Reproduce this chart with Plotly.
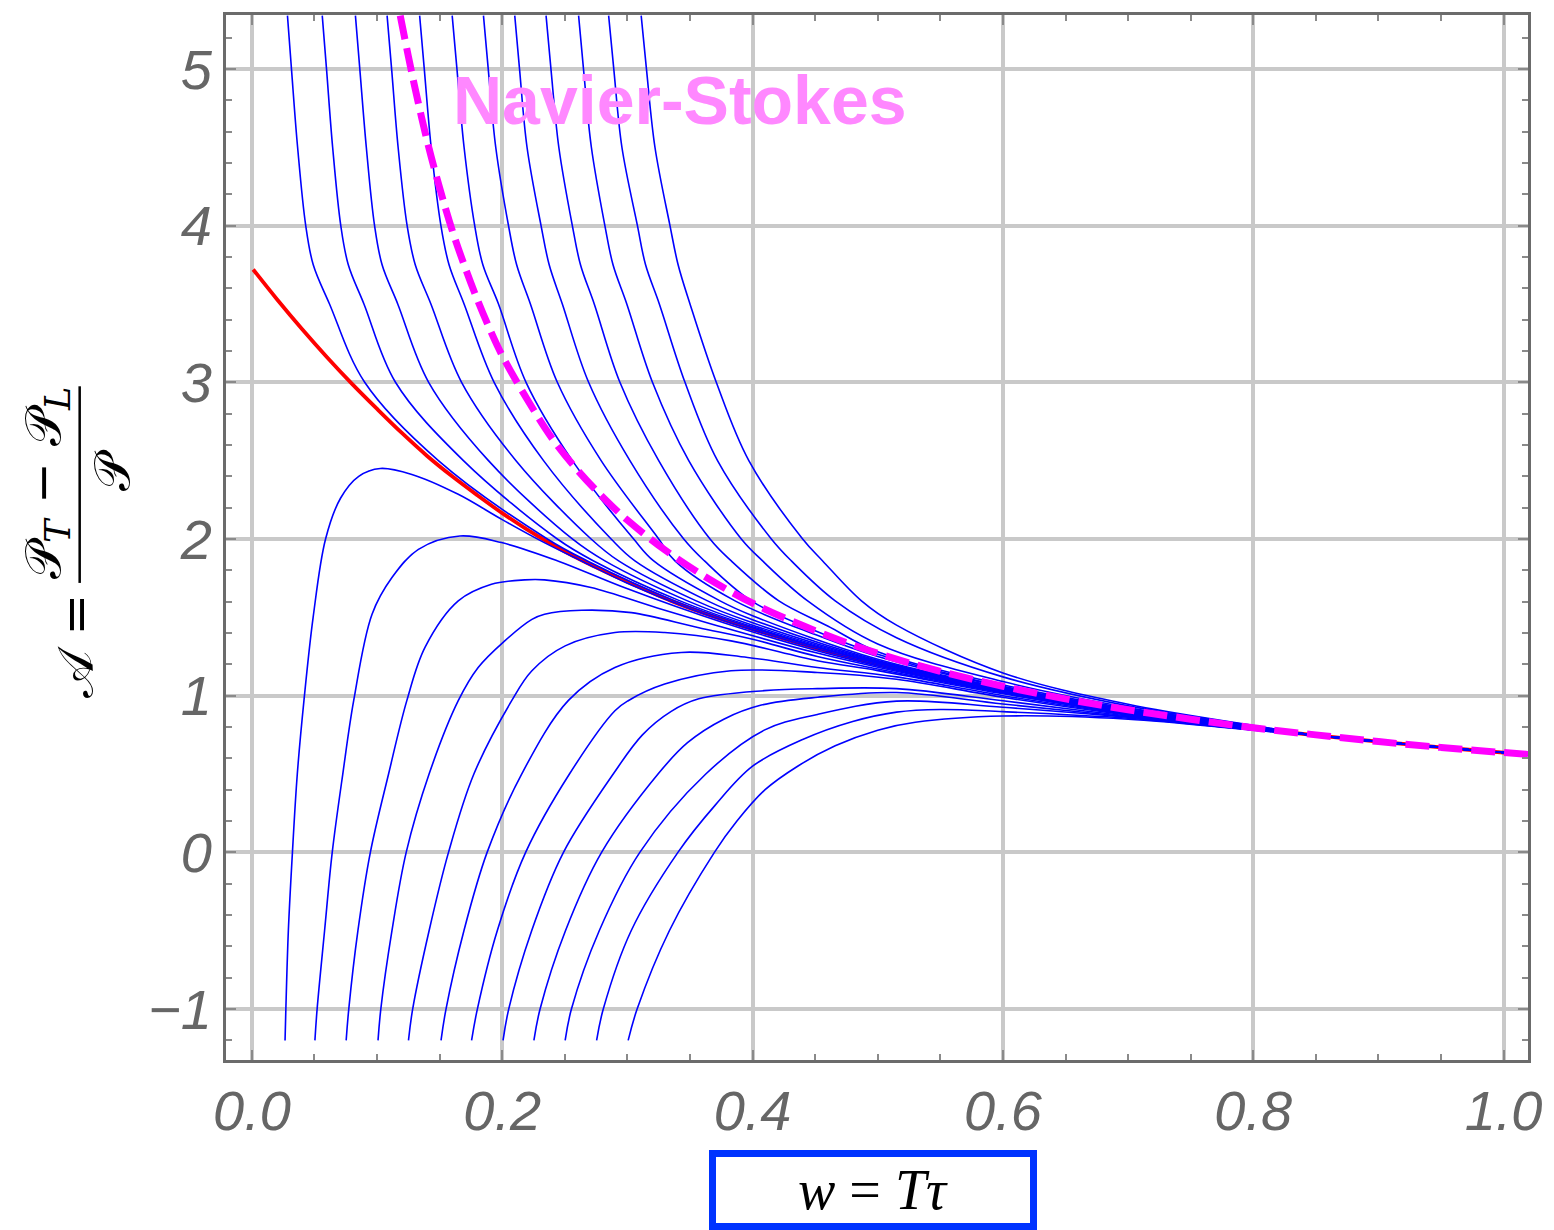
import plotly.graph_objects as go

# ---------------- data ----------------
# attractor (red)
red_w = [0.001, 0.02, 0.04, 0.06, 0.08, 0.10, 0.12, 0.14, 0.16, 0.18, 0.20, 0.22, 0.25, 0.28, 0.30, 0.335, 0.36, 0.40, 0.45, 0.50, 0.55, 0.60, 0.65, 0.70, 0.75, 0.80]
red_a = [3.72, 3.53, 3.34, 3.16, 2.99, 2.83, 2.675, 2.53, 2.40, 2.28, 2.165, 2.06, 1.92, 1.80, 1.727, 1.605, 1.53, 1.425, 1.305, 1.20, 1.11, 1.03, 0.96, 0.893, 0.838, 0.792]

# Navier-Stokes (magenta dashed)
ns_w = [0.1185, 0.125, 0.13, 0.14, 0.15, 0.16, 0.17, 0.18, 0.19, 0.20, 0.22, 0.24, 0.26, 0.28, 0.30, 0.33, 0.36, 0.40, 0.45, 0.50, 0.55, 0.60, 0.65, 0.70, 0.75, 0.80, 0.85, 0.90, 0.95, 1.00, 1.02]
ns_a = [5.34, 5.08, 4.89, 4.54, 4.24, 3.97, 3.74, 3.53, 3.34, 3.17, 2.89, 2.64, 2.44, 2.27, 2.12, 1.93, 1.77, 1.59, 1.415, 1.27, 1.155, 1.06, 0.98, 0.91, 0.85, 0.795, 0.75, 0.707, 0.67, 0.637, 0.625]

# common tail where every trajectory sits on the attractor
tail_w = [0.85, 0.90, 0.95, 1.00, 1.02]
tail_a = [0.747, 0.707, 0.670, 0.637, 0.625]

# trajectories entering from the top  (A levels 5.34 .. 1.605, then fixed w)
upper_w = [
    [0.0284, 0.0316, 0.0365, 0.0430, 0.0490, 0.0620, 0.0901, 0.149, 0.236, 0.268, 0.338, 0.40, 0.50, 0.60, 0.70, 0.80],
    [0.0562, 0.0596, 0.0645, 0.0710, 0.0770, 0.0895, 0.1147, 0.169, 0.244, 0.273, 0.342, 0.40, 0.50, 0.60, 0.70, 0.80],
    [0.0827, 0.0862, 0.0914, 0.0980, 0.1040, 0.1165, 0.1412, 0.189, 0.256, 0.282, 0.348, 0.40, 0.50, 0.60, 0.70, 0.80],
    [0.1080, 0.1116, 0.1168, 0.1240, 0.1305, 0.1430, 0.1675, 0.211, 0.271, 0.293, 0.355, 0.40, 0.50, 0.60, 0.70, 0.80],
    [0.1340, 0.1377, 0.1432, 0.1510, 0.1575, 0.1695, 0.1935, 0.233, 0.287, 0.306, 0.364, 0.40, 0.50, 0.60, 0.70, 0.80],
    [0.1600, 0.1638, 0.1695, 0.1780, 0.1845, 0.1970, 0.2190, 0.256, 0.305, 0.321, 0.374, 0.40, 0.50, 0.60, 0.70, 0.80],
    [0.1850, 0.1888, 0.1948, 0.2050, 0.2115, 0.2225, 0.2440, 0.279, 0.325, 0.338, 0.386, 0.45, 0.50, 0.60, 0.70, 0.80],
    [0.2100, 0.2138, 0.2198, 0.2310, 0.2375, 0.2480, 0.2690, 0.302, 0.345, 0.3616, 0.399, 0.45, 0.50, 0.60, 0.70, 0.80],
    [0.2350, 0.2389, 0.2452, 0.2560, 0.2625, 0.2735, 0.2940, 0.325, 0.366, 0.383, 0.421, 0.46, 0.50, 0.60, 0.70, 0.80],
    [0.2610, 0.2649, 0.2712, 0.2820, 0.2885, 0.2995, 0.3200, 0.349, 0.391, 0.408, 0.444, 0.50, 0.60, 0.70, 0.80],
    [0.2850, 0.2891, 0.2956, 0.3080, 0.3145, 0.3255, 0.3460, 0.372, 0.415, 0.431, 0.466, 0.515, 0.60, 0.70, 0.80],
    [0.3110, 0.3152, 0.3220, 0.3340, 0.3405, 0.3500, 0.3710, 0.397, 0.440, 0.456, 0.487, 0.515, 0.60, 0.70, 0.80],
]
upper_a = [
    [5.34, 5.0, 4.5, 4.0, 3.75, 3.5, 3.0, 2.5, 2.0, 1.86, 1.605, 1.432, 1.206, 1.035, 0.897, 0.793],
    [5.34, 5.0, 4.5, 4.0, 3.75, 3.5, 3.0, 2.5, 2.0, 1.86, 1.605, 1.440, 1.210, 1.038, 0.899, 0.795],
    [5.34, 5.0, 4.5, 4.0, 3.75, 3.5, 3.0, 2.5, 2.0, 1.86, 1.605, 1.450, 1.215, 1.041, 0.900, 0.796],
    [5.34, 5.0, 4.5, 4.0, 3.75, 3.5, 3.0, 2.5, 2.0, 1.86, 1.605, 1.465, 1.220, 1.044, 0.902, 0.797],
    [5.34, 5.0, 4.5, 4.0, 3.75, 3.5, 3.0, 2.5, 2.0, 1.86, 1.605, 1.485, 1.225, 1.047, 0.904, 0.798],
    [5.34, 5.0, 4.5, 4.0, 3.75, 3.5, 3.0, 2.5, 2.0, 1.86, 1.605, 1.510, 1.232, 1.050, 0.906, 0.799],
    [5.34, 5.0, 4.5, 4.0, 3.75, 3.5, 3.0, 2.5, 2.0, 1.86, 1.605, 1.390, 1.250, 1.056, 0.908, 0.800],
    [5.34, 5.0, 4.5, 4.0, 3.75, 3.5, 3.0, 2.5, 2.0, 1.86, 1.605, 1.415, 1.265, 1.060, 0.912, 0.801],
    [5.34, 5.0, 4.5, 4.0, 3.75, 3.5, 3.0, 2.5, 2.0, 1.86, 1.605, 1.445, 1.280, 1.070, 0.918, 0.803],
    [5.34, 5.0, 4.5, 4.0, 3.75, 3.5, 3.0, 2.5, 2.0, 1.86, 1.605, 1.330, 1.090, 0.925, 0.805],
    [5.34, 5.0, 4.5, 4.0, 3.75, 3.5, 3.0, 2.5, 2.0, 1.86, 1.605, 1.370, 1.120, 0.935, 0.808],
    [5.34, 5.0, 4.5, 4.0, 3.75, 3.5, 3.0, 2.5, 2.0, 1.86, 1.605, 1.450, 1.145, 0.945, 0.810],
]

# trajectories starting at the bottom
lower_w = [
    [0.02648, 0.02712, 0.02911, 0.03237, 0.03626, 0.04159, 0.04891, 0.05885, 0.07078, 0.08533, 0.10258, 0.1278, 0.16485, 0.1996, 0.234, 0.265, 0.30, 0.35, 0.40, 0.50, 0.60, 0.70, 0.80],
    [0.05034, 0.05209, 0.05805, 0.06417, 0.0726, 0.08135, 0.09598, 0.11189, 0.13304, 0.1662, 0.19936, 0.24437, 0.29742, 0.37694, 0.45, 0.50, 0.60, 0.70, 0.80],
    [0.07531, 0.07738, 0.08469, 0.09463, 0.10918, 0.12382, 0.13837, 0.16485, 0.19141, 0.21789, 0.2338, 0.27093, 0.3239, 0.37694, 0.45, 0.50, 0.60, 0.70, 0.80],
    [0.10076, 0.10298, 0.11189, 0.12326, 0.14155, 0.16485, 0.18076, 0.20199, 0.2237, 0.2338, 0.26346, 0.30322, 0.35626, 0.40, 0.4517, 0.50, 0.60, 0.70, 0.80],
    [0.12509, 0.12843, 0.14155, 0.15706, 0.17734, 0.20755, 0.2237, 0.25026, 0.29002, 0.32978, 0.38274, 0.45169, 0.50, 0.60, 0.70, 0.80],
    [0.15109, 0.15507, 0.16938, 0.18791, 0.21551, 0.25288, 0.29002, 0.34298, 0.39602, 0.45169, 0.515, 0.60, 0.70, 0.80],
    [0.17551, 0.18012, 0.19602, 0.21869, 0.25368, 0.29002, 0.3006, 0.32978, 0.38274, 0.45169, 0.515, 0.60, 0.70, 0.80],
    [0.20064, 0.20517, 0.2235, 0.24891, 0.28867, 0.312, 0.335, 0.357, 0.4093, 0.4517, 0.515, 0.60, 0.70, 0.80],
    [0.22529, 0.23022, 0.2505, 0.27936, 0.32445, 0.348, 0.377, 0.407, 0.452, 0.515, 0.60, 0.70, 0.80],
    [0.25026, 0.25527, 0.2775, 0.3099, 0.36262, 0.4093, 0.45169, 0.515, 0.60, 0.70, 0.80],
    [0.27539, 0.28072, 0.303, 0.34036, 0.37, 0.40, 0.44, 0.48, 0.515, 0.55, 0.60, 0.70, 0.80],
    [0.3006, 0.30775, 0.3335, 0.3695, 0.3875, 0.41, 0.436, 0.466, 0.50, 0.53, 0.60, 0.70, 0.80],
]
lower_a = [
    [-1.2, -1.0, -0.5, 0.0, 0.5, 0.97, 1.5, 2.0, 2.26, 2.40, 2.45, 2.412, 2.285, 2.125, 1.975, 1.853, 1.718, 1.555, 1.42, 1.197, 1.028, 0.892, 0.791],
    [-1.2, -1.0, -0.5, 0.0, 0.5, 0.97, 1.52, 1.754, 1.934, 2.019, 1.977, 1.86, 1.69, 1.465, 1.29, 1.19, 1.025, 0.89, 0.79],
    [-1.2, -1.0, -0.5, 0.0, 0.5, 0.97, 1.31, 1.605, 1.711, 1.739, 1.739, 1.69, 1.56, 1.435, 1.275, 1.182, 1.021, 0.888, 0.79],
    [-1.2, -1.0, -0.5, 0.0, 0.5, 0.968, 1.18, 1.35, 1.487, 1.52, 1.545, 1.53, 1.435, 1.36, 1.25, 1.17, 1.017, 0.886, 0.789],
    [-1.2, -1.0, -0.5, 0.0, 0.5, 0.968, 1.159, 1.318, 1.403, 1.403, 1.35, 1.223, 1.16, 1.012, 0.883, 0.788],
    [-1.2, -1.0, -0.5, 0.0, 0.5, 0.97, 1.18, 1.276, 1.244, 1.18, 1.12, 1.0, 0.88, 0.787],
    [-1.2, -1.0, -0.5, 0.0, 0.5, 0.904, 0.968, 1.074, 1.159, 1.148, 1.105, 0.99, 0.876, 0.786],
    [-1.2, -1.0, -0.5, 0.0, 0.5, 0.75, 0.9, 0.98, 1.032, 1.045, 1.045, 0.968, 0.87, 0.785],
    [-1.2, -1.0, -0.5, 0.0, 0.5, 0.7, 0.85, 0.94, 0.99, 1.02, 0.947, 0.865, 0.783],
    [-1.2, -1.0, -0.5, 0.0, 0.5, 0.78, 0.88, 0.965, 0.926, 0.862, 0.782],
    [-1.2, -1.0, -0.5, 0.0, 0.3, 0.55, 0.72, 0.835, 0.895, 0.912, 0.898, 0.856, 0.781],
    [-1.2, -1.0, -0.5, 0.0, 0.2, 0.4, 0.55, 0.68, 0.78, 0.83, 0.87, 0.85, 0.78],
]

x_ticks = [0.0, 0.2, 0.4, 0.6, 0.8, 1.0]
x_tick_text = ["0.0", "0.2", "0.4", "0.6", "0.8", "1.0"]
y_ticks = [-1, 0, 1, 2, 3, 4, 5]
y_tick_text = ["\u22121", "0", "1", "2", "3", "4", "5"]

# ---------------- figure ----------------
W, H = 1554, 1230
ML, MR, MT, MB = 226, 20, 13, 170
PW, PH = W - ML - MR, H - MT - MB


def px(xp):
    return (xp - ML) / PW


def py(yp):
    return (H - MB - yp) / PH


BLUE = "#0000ff"
fig = go.Figure()

fig.add_trace(go.Scatter(x=red_w + tail_w, y=red_a + tail_a, mode="lines",
                         line=dict(color="#ff0000", width=3.8, shape="spline", smoothing=1.0),
                         hoverinfo="skip", showlegend=False))

for cw, ca in zip(upper_w + lower_w, upper_a + lower_a):
    fig.add_trace(go.Scatter(x=cw + tail_w, y=ca + tail_a, mode="lines",
                             line=dict(color=BLUE, width=1.6, shape="spline", smoothing=1.0),
                             hoverinfo="skip", showlegend=False))

fig.add_trace(go.Scatter(x=ns_w, y=ns_a, mode="lines",
                         line=dict(color="#ff00ff", width=7, dash="24px,9px", shape="spline", smoothing=1.0),
                         hoverinfo="skip", showlegend=False))

tick_font = dict(family="Liberation Sans Narrow, Liberation Sans, Arial, sans-serif", size=56,
                 color="#666666", style="italic")
axis_common = dict(showline=True, linecolor="#6b6b6b", linewidth=3, mirror="ticks",
                   showgrid=True, gridcolor="#c9c9c9", gridwidth=3.5, zeroline=False,
                   ticks="inside", ticklen=10, tickwidth=1.5, tickcolor="#8a8a8a",
                   tickfont=tick_font)

fig.update_layout(
    width=W, height=H,
    margin=dict(l=ML, r=MR, t=MT, b=MB, pad=0),
    paper_bgcolor="white", plot_bgcolor="white",
    xaxis=dict(range=[-0.0207, 1.0195], tickvals=x_ticks, ticktext=x_tick_text,
               ticklabelstandoff=0,
               minor=dict(ticks="inside", ticklen=6, dtick=0.05, tick0=0, tickcolor="#8a8a8a", showgrid=False),
               **axis_common),
    yaxis=dict(range=[-1.325, 5.344], tickvals=y_ticks, ticktext=y_tick_text,
               ticklabelstandoff=0,
               minor=dict(ticks="inside", ticklen=6, dtick=0.2, tick0=0, tickcolor="#8a8a8a", showgrid=False),
               **axis_common),
)

math_font = dict(family="DejaVu Serif, Liberation Serif, serif", size=50, color="black")

annotations = [
    dict(x=0.342, y=4.80, xref="x", yref="y", text="<b>Navier-Stokes</b>", showarrow=False,
         font=dict(family="Liberation Sans, Arial, sans-serif", size=68, color="#ff88ff")),
    dict(x=px(876), y=py(1190), xref="paper", yref="paper", text="<i>w</i> = <i>Tτ</i>",
         showarrow=False, xanchor="center", yanchor="middle",
         font=dict(family="Liberation Serif, serif", size=56, color="black"),
         bordercolor="#0033ff", borderwidth=7, borderpad=0, bgcolor="white",
         width=314, height=66),
    dict(x=px(75), y=py(645), xref="paper", yref="paper", text="𝒜 =", textangle=-90,
         showarrow=False, xanchor="center", yanchor="middle", font=math_font),
    dict(x=px(45), y=py(482), xref="paper", yref="paper",
         text="𝒫<sub><i>T</i></sub> − 𝒫<sub><i>L</i></sub>", textangle=-90,
         showarrow=False, xanchor="center", yanchor="middle", font=math_font),
    dict(x=px(112), y=py(469), xref="paper", yref="paper", text="𝒫", textangle=-90,
         showarrow=False, xanchor="center", yanchor="middle", font=math_font),
]
fig.update_layout(annotations=annotations)
fig.add_shape(type="line", xref="paper", yref="paper", x0=px(79), x1=px(79), y0=py(385), y1=py(582),
              line=dict(color="black", width=2.5))

fig.write_html("out.html")
